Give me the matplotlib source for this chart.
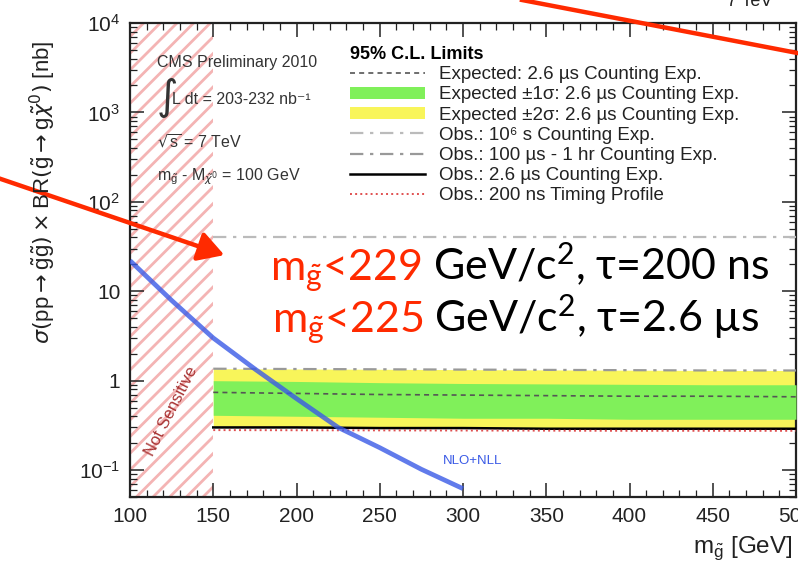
import matplotlib.pyplot as plt
from matplotlib.lines import Line2D
from matplotlib.patches import Patch, FancyArrowPatch
from matplotlib.ticker import MultipleLocator, LogLocator

plt.rcParams['font.family'] = ['Liberation Sans', 'DejaVu Sans']
plt.rcParams['hatch.linewidth'] = 2.0

W, H = 798, 566

# gluino mass grid for the limit curves [GeV]
mass = [150, 200, 250, 300, 350, 400, 450, 500]
exp_central = [0.74, 0.72, 0.70, 0.69, 0.68, 0.67, 0.67, 0.66]
exp_1s_lo = [0.41, 0.40, 0.39, 0.38, 0.38, 0.37, 0.37, 0.37]
exp_1s_hi = [1.00, 0.98, 0.95, 0.93, 0.92, 0.91, 0.90, 0.90]
exp_2s_lo = [0.31, 0.305, 0.30, 0.295, 0.29, 0.29, 0.29, 0.29]
exp_2s_hi = [1.36, 1.35, 1.34, 1.33, 1.32, 1.31, 1.30, 1.30]
obs_1e6s = [40, 40, 40, 40, 40, 40, 40, 40]
obs_100us_1hr = [1.36, 1.35, 1.34, 1.33, 1.32, 1.31, 1.30, 1.30]
obs_2p6us = [0.30, 0.30, 0.295, 0.295, 0.29, 0.29, 0.29, 0.29]
obs_200ns = [0.28, 0.279, 0.278, 0.277, 0.276, 0.275, 0.275, 0.275]

# NLO+NLL gluino pair production cross section
xsec_mass = [100, 125, 150, 175, 200, 225, 250, 275, 300]
xsec_nb = [22, 7.9, 3.0, 1.35, 0.63, 0.30, 0.178, 0.102, 0.062]

insensitive = [100, 150]

green = '#80f05a'
yellow = '#f8f55a'
slide_red = '#ff2a00'
ink = '#222222'


def px(x, y):
    # pixel position (from top-left) -> figure fraction
    return x / W, 1 - y / H


fig = plt.figure(figsize=(W / 100, H / 100), dpi=100)
ax = fig.add_axes([130 / W, 1 - 497 / H, (796 - 130) / W, (497 - 23) / H])

ax.set_yscale('log')
ax.set_xlim(100, 500)
ax.set_ylim(0.05, 1e4)

ax.fill_between(insensitive, [0.05, 0.05], [1e4, 1e4], facecolor='none',
                edgecolor='#f4b4b4', hatch='//', linewidth=0, zorder=1)

ax.fill_between(mass, exp_2s_lo, exp_2s_hi, color=yellow, lw=0, zorder=2)
ax.fill_between(mass, exp_1s_lo, exp_1s_hi, color=green, lw=0, zorder=3)
ax.plot(mass, exp_central, color='#555555', lw=1.2, dashes=(3, 2.5), zorder=4)
ax.plot(mass, obs_1e6s, color='#bbbbbb', lw=1.6, dashes=(6, 3, 1.5, 3), zorder=4)
ax.plot(mass, obs_100us_1hr, color='#999999', lw=1.6, dashes=(6, 3, 1.5, 3), zorder=4)
ax.plot(mass, obs_2p6us, color='black', lw=1.8, zorder=5)
ax.plot(mass, obs_200ns, color='#e05050', lw=1.4, ls=':', zorder=5)
ax.plot(xsec_mass, xsec_nb, color='#3a5ae6', lw=3.4, alpha=0.8,
        solid_capstyle='butt', zorder=6)

ax.text(306, 0.125, 'NLO+NLL', color='#3a5ae6', fontsize=9.5, ha='center', va='center')
ax.text(125, 0.46, 'Not Sensitive', color='#a83434', fontsize=12,
        rotation=63, ha='center', va='center')

ax.xaxis.set_major_locator(MultipleLocator(50))
ax.xaxis.set_minor_locator(MultipleLocator(10))
ax.yaxis.set_minor_locator(LogLocator(base=10, subs=range(2, 10), numticks=20))
ax.tick_params(which='both', direction='in', top=True, right=True,
               labelsize=15, colors=ink)
ax.tick_params(which='major', length=10, width=1.1, pad=7)
ax.tick_params(which='minor', length=5, width=0.9)
for s in ax.spines.values():
    s.set_linewidth(1.6)
    s.set_color(ink)

ax.set_yticks([0.1, 1, 10, 100, 1000, 10000])
ax.set_yticklabels(['$\\mathregular{10^{-1}}$', '1', '10', '$\\mathregular{10^{2}}$',
                    '$\\mathregular{10^{3}}$', '$\\mathregular{10^{4}}$'])
ax.set_ylim(0.05, 1e4)

# legend
handles = [
    Line2D([], [], color='#555555', lw=1.2, dashes=(3, 2.5)),
    Patch(facecolor=green, edgecolor='none'),
    Patch(facecolor=yellow, edgecolor='none'),
    Line2D([], [], color='#bbbbbb', lw=1.6, dashes=(6, 3, 1.5, 3)),
    Line2D([], [], color='#999999', lw=1.6, dashes=(6, 3, 1.5, 3)),
    Line2D([], [], color='black', lw=1.8),
    Line2D([], [], color='#e05050', lw=1.4, ls=':'),
]
labels = [
    'Expected: 2.6 \u00b5s Counting Exp.',
    'Expected \u00b11\u03c3: 2.6 \u00b5s Counting Exp.',
    'Expected \u00b12\u03c3: 2.6 \u00b5s Counting Exp.',
    'Obs.: 10\u2076 s Counting Exp.',
    'Obs.: 100 \u00b5s - 1 hr Counting Exp.',
    'Obs.: 2.6 \u00b5s Counting Exp.',
    'Obs.: 200 ns Timing Profile',
]
leg = ax.legend(handles, labels, title='95% C.L. Limits', loc='upper left',
                bbox_to_anchor=px(350, 46), bbox_transform=fig.transFigure,
                frameon=False, fontsize=13.5, handlelength=4.0, handleheight=0.6,
                handletextpad=0.75, labelspacing=0.17, borderpad=0,
                borderaxespad=0, alignment='left',
                title_fontproperties={'weight': 'bold', 'size': 13})
for t in leg.get_texts():
    t.set_color(ink)

# analysis info block
info = dict(fontsize=11.5, color='#333333', ha='left', va='center')
fig.text(*px(157, 62), 'CMS Preliminary 2010', **info)
fig.text(*px(156, 98), '$\\int$', fontsize=21, color='#333333', ha='left', va='center')
fig.text(*px(172, 99), 'L dt = 203-232 nb\u207b\u00b9', **info)
fig.text(*px(157, 142), '$\\sqrt{\\mathregular{s}}$ = 7 TeV', **info)
fig.text(*px(157, 177), 'm$_{\\tilde{\\mathregular{g}}}$ - M$_{\\tilde{\\chi}^0}$ = 100 GeV', **info)

# axis titles
fig.text(*px(43, 192),
         '$\\sigma(\\mathregular{pp} \\rightarrow \\tilde{\\mathregular{g}}\\tilde{\\mathregular{g}})'
         ' \\times \\mathregular{BR}(\\tilde{\\mathregular{g}} \\rightarrow \\mathregular{g}'
         '\\tilde{\\chi}^{0})$ [nb]',
         rotation=90, ha='center', va='center', fontsize=16, color=ink)
fig.text(*px(693, 548), 'm$_{\\tilde{\\mathregular{g}}}$ [GeV]', ha='left', va='center',
         fontsize=17.5, color=ink)
fig.text(*px(727, 6), '7 TeV', ha='left', va='baseline', fontsize=13, color=ink)

# slide annotation with the mass limits
big = dict(fontsize=31, family=['Lato', 'DejaVu Sans'])


def limit_line(x, y, limit, rest):
    t = fig.text(*px(x, y), '$\\mathregular{m_{\\tilde{g}}}$<' + limit,
                 color=slide_red, ha='left', va='baseline', **big)
    fig.canvas.draw()
    fig.text(t.get_window_extent().x1 / W, 1 - y / H, ' ' + rest,
             color='black', ha='left', va='baseline', **big)


limit_line(270, 280, '229', 'GeV/c$\\mathregular{^2}$, \u03c4=200 ns')
limit_line(272, 332, '225', 'GeV/c$\\mathregular{^2}$, \u03c4=2.6 \u00b5s')

# slide arrows
fig.add_artist(FancyArrowPatch(px(-5, 177), px(227, 256), transform=fig.transFigure,
                               arrowstyle='-|>,head_length=1.3,head_width=0.75',
                               mutation_scale=12, color=slide_red, lw=3.2))
fig.add_artist(Line2D([522 / W, 800 / W], [1, 1 - 53.5 / H], transform=fig.transFigure,
                      color=slide_red, lw=3.2))

fig.savefig('out.png', dpi=100)
